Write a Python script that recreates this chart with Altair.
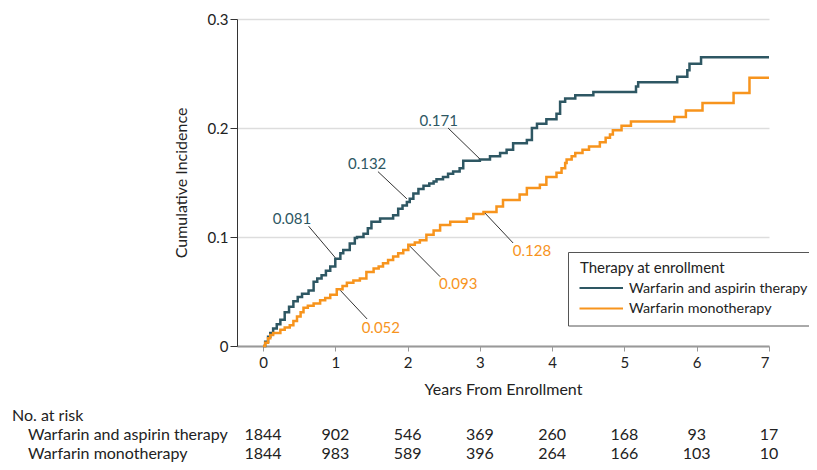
import altair as alt
import pandas as pd

FONT = "Lato"
BLUE = "#2e5763"
ORANGE = "#f7941d"
S1 = "Warfarin and aspirin therapy"
S2 = "Warfarin monotherapy"
LEGEND_TITLE = "Therapy at enrollment"

# Step-function cumulative incidence (years, incidence)
t_combo = [0, 0.03, 0.07, 0.10, 0.14, 0.19, 0.24, 0.30, 0.36, 0.42, 0.48, 0.54, 0.63, 0.70, 0.75,
           0.81, 0.87, 0.93, 1.00, 1.07, 1.11, 1.20, 1.27, 1.30, 1.39, 1.45, 1.50, 1.62, 1.80, 1.87,
           1.93, 1.99, 2.03, 2.08, 2.15, 2.22, 2.30, 2.36, 2.40, 2.49, 2.56, 2.63, 2.72, 2.77, 3.00,
           3.14, 3.28, 3.37, 3.46, 3.65, 3.72, 3.79, 3.92, 4.06, 4.11, 4.18, 4.32, 4.57, 5.16, 5.19,
           5.73, 5.87, 5.90, 6.06, 7.00]
y_combo = [0, 0.004, 0.0085, 0.012, 0.016, 0.020, 0.024, 0.031, 0.036, 0.041, 0.045, 0.048, 0.051,
           0.059, 0.062, 0.065, 0.069, 0.073, 0.080, 0.085, 0.088, 0.094, 0.099, 0.100, 0.103, 0.108,
           0.114, 0.117, 0.120, 0.126, 0.129, 0.132, 0.135, 0.140, 0.144, 0.147, 0.149, 0.151, 0.153,
           0.155, 0.158, 0.160, 0.163, 0.170, 0.171, 0.174, 0.177, 0.180, 0.186, 0.189, 0.200, 0.204,
           0.208, 0.213, 0.224, 0.227, 0.230, 0.233, 0.238, 0.242, 0.247, 0.253, 0.259, 0.265, 0.265]

t_mono = [0, 0.03, 0.07, 0.10, 0.14, 0.24, 0.30, 0.37, 0.42, 0.47, 0.52, 0.56, 0.62, 0.70, 0.79,
          0.86, 0.93, 1.02, 1.10, 1.16, 1.25, 1.34, 1.43, 1.53, 1.60, 1.66, 1.73, 1.80, 1.87, 1.94,
          2.01, 2.10, 2.17, 2.26, 2.36, 2.45, 2.59, 2.82, 2.91, 3.05, 3.23, 3.32, 3.55, 3.65, 3.83,
          3.92, 4.06, 4.13, 4.18, 4.20, 4.27, 4.32, 4.42, 4.51, 4.66, 4.74, 4.80, 4.84, 4.96, 5.09,
          5.69, 5.85, 6.08, 6.51, 6.73, 7.00]
y_mono = [0, 0.003, 0.007, 0.010, 0.012, 0.015, 0.017, 0.019, 0.023, 0.027, 0.031, 0.035, 0.037,
          0.039, 0.042, 0.044, 0.047, 0.052, 0.055, 0.058, 0.060, 0.062, 0.068, 0.071, 0.073, 0.076,
          0.079, 0.082, 0.085, 0.088, 0.093, 0.095, 0.097, 0.102, 0.106, 0.111, 0.114, 0.117, 0.121,
          0.123, 0.128, 0.134, 0.139, 0.145, 0.148, 0.155, 0.159, 0.163, 0.168, 0.171, 0.174, 0.177,
          0.180, 0.183, 0.187, 0.191, 0.194, 0.198, 0.202, 0.206, 0.210, 0.216, 0.223, 0.232, 0.246,
          0.246]

# Annotations: label text, label anchor (years, incidence), leader start, leader end on curve
ann_series = [S1, S1, S1, S2, S2, S2]
ann_text = ["0.081", "0.132", "0.171", "0.052", "0.093", "0.128"]
ann_lx = [0.40, 1.44, 2.43, 1.63, 2.70, 3.72]
ann_ly = [0.1165, 0.167, 0.206, 0.0165, 0.057, 0.087]
lead_x1 = [0.63, 1.59, 2.56, 1.44, 2.45, 3.46]
lead_y1 = [0.110, 0.160, 0.200, 0.0248, 0.0636, 0.0945]
lead_x2 = [1.00, 1.99, 3.00, 1.07, 2.03, 3.07]
lead_y2 = [0.081, 0.135, 0.1716, 0.051, 0.0917, 0.122]

# Number at risk
risk_years = [0, 1, 2, 3, 4, 5, 6, 7]
risk_combo = [1844, 902, 546, 369, 260, 168, 93, 17]
risk_mono = [1844, 983, 589, 396, 264, 166, 103, 10]

curves = pd.concat([
    pd.DataFrame({"t": t_combo, "y": y_combo, "Therapy": S1}),
    pd.DataFrame({"t": t_mono, "y": y_mono, "Therapy": S2}),
])
ann = pd.DataFrame({"series": ann_series, "text": ann_text, "lx": ann_lx, "ly": ann_ly,
                    "x1": lead_x1, "y1": lead_y1, "x2": lead_x2, "y2": lead_y2})

xscale = alt.Scale(domain=[-0.36, 7], nice=False, zero=False)
yscale = alt.Scale(domain=[0, 0.3], nice=False)

lines = alt.Chart(curves).mark_line(interpolate="step-after", strokeWidth=2.5).encode(
    x=alt.X("t:Q", scale=xscale, title="Years From Enrollment",
            axis=alt.Axis(values=risk_years, grid=False, domainColor="#999", domainWidth=2,
                          tickColor="#999", tickSize=5, labelPadding=4, titlePadding=11,
                          format="d", titleFontSize=16)),
    y=alt.Y("y:Q", scale=yscale, title="Cumulative Incidence",
            axis=alt.Axis(values=[0, 0.1, 0.2, 0.3], format="~g", grid=True, gridColor="#dddddd",
                          gridWidth=1.5, domainColor="#333", tickColor="#333", tickSize=7,
                          labelPadding=2, titlePadding=18, titleFontSize=16)),
    color=alt.Color("Therapy:N", scale=alt.Scale(domain=[S1, S2], range=[BLUE, ORANGE]),
                    legend=None),
)

leaders = alt.Chart(ann).mark_rule(color="#333", strokeWidth=1).encode(
    x="x1:Q", y="y1:Q", x2="x2:Q", y2="y2:Q")

layers = [lines, leaders]
for s, c in [(S1, BLUE), (S2, ORANGE)]:
    layers.append(
        alt.Chart(ann[ann.series == s]).mark_text(fontSize=15, color=c, font=FONT).encode(
            x="lx:Q", y="ly:Q", text="text:N"))

# Legend (drawn by hand)
one = pd.DataFrame({"k": [0]})
layers.append(alt.Chart(one).mark_rect(fill="white", stroke="#555", strokeWidth=1).encode(
    x=alt.value(331.5), x2=alt.value(640), y=alt.value(233.5), y2=alt.value(307)))
layers.append(alt.Chart(one).mark_text(fontSize=15, color="#222", align="left",
                                       baseline="alphabetic", font=FONT).encode(
    x=alt.value(343), y=alt.value(254), text=alt.value(LEGEND_TITLE)))
for s, c, ly in [(S1, BLUE, 269), (S2, ORANGE, 289.5)]:
    layers.append(alt.Chart(one).mark_rule(color=c, strokeWidth=2).encode(
        x=alt.value(342.5), x2=alt.value(386), y=alt.value(ly)))
    layers.append(alt.Chart(one).mark_text(fontSize=14.3, color="#222", align="left",
                                           baseline="alphabetic", font=FONT).encode(
        x=alt.value(392), y=alt.value(ly + 4.8), text=alt.value(s)))

# Number at risk table
risk = pd.DataFrame({"year": risk_years, "c1": [str(v) for v in risk_combo],
                     "c2": [str(v) for v in risk_mono]})
for field, ypix in [("c1", 421), ("c2", 439.5)]:
    layers.append(
        alt.Chart(risk).mark_text(fontSize=16, color="#222", baseline="alphabetic",
                                  font=FONT).encode(
            x="year:Q", y=alt.value(ypix), text=f"{field}:N"))

for lab, xpix, ypix in [("No. at risk", -225, 402), (S1, -209, 421), (S2, -209, 439.5)]:
    layers.append(
        alt.Chart(one).mark_text(
            fontSize=16, color="#222", align="left", baseline="alphabetic", font=FONT).encode(
            x=alt.value(xpix), y=alt.value(ypix), text=alt.value(lab)))

chart = alt.layer(*layers).properties(
    width=532, height=327,
    autosize=alt.AutoSizeParams(type="none"),
    padding={"left": 229, "top": 11, "right": 40, "bottom": 116},
).configure(font=FONT).configure_view(stroke=None).configure_axis(
    labelFontSize=15, titleFontSize=15, labelColor="#222", titleColor="#222",
    titleFontWeight="normal", labelFont=FONT, titleFont=FONT)

chart.save("out.html", embed_options={"renderer": "svg", "actions": False})
